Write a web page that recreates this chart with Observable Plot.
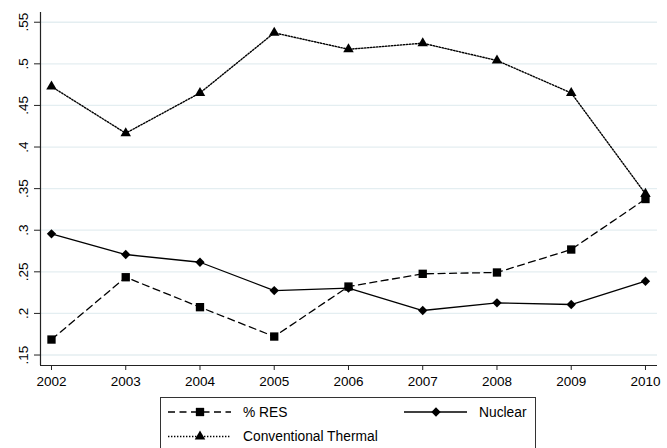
<!DOCTYPE html>
<html><head><meta charset="utf-8">
<script src="https://cdn.jsdelivr.net/npm/d3@7"></script>
<script src="https://cdn.jsdelivr.net/npm/@observablehq/plot@0.6"></script>
<style>
body{margin:0;background:#fff;font-family:"Liberation Sans",Arial,sans-serif;}
#chart{width:667px;height:448px;overflow:hidden;}
#chart svg{display:block;}
</style>
</head><body><div id="chart"></div>
<script>
const years = [2002, 2003, 2004, 2005, 2006, 2007, 2008, 2009, 2010];
const resValues = [0.1686, 0.2435, 0.2075, 0.1722, 0.2323, 0.2476, 0.2492, 0.2768, 0.3375];
const nuclearValues = [0.2957, 0.2708, 0.2615, 0.2275, 0.2303, 0.2035, 0.2127, 0.2107, 0.2387];
const thermalValues = [0.4727, 0.4166, 0.4650, 0.5373, 0.5175, 0.5248, 0.5040, 0.4650, 0.3437];
const yTicks = [0.15, 0.2, 0.25, 0.3, 0.35, 0.4, 0.45, 0.5, 0.55];
const seriesNames = ["% RES", "Nuclear", "Conventional Thermal"];

const rows = (name, vals) => years.map((y, i) => ({series: name, year: y, value: vals[i]}));
const resData = rows(seriesNames[0], resValues);
const nucData = rows(seriesNames[1], nuclearValues);
const thData = rows(seriesNames[2], thermalValues);

const xDomain = [2001.852, 2010.162];
const yDomain = [0.1374, 0.5617];
const fmt = d => d3.format(".2~f")(d).replace(/^0/, "");
const FONT = "'Liberation Sans', Arial, sans-serif";

const plot = Plot.plot({
  width: 667, height: 392,
  marginLeft: 40, marginRight: 10, marginTop: 12, marginBottom: 27,
  style: {fontFamily: FONT, fontSize: "13.5px", background: "white", color: "black", overflow: "visible"},
  x: {domain: xDomain, label: null},
  y: {domain: yDomain, label: null},
  marks: [
    Plot.gridY(yTicks, {stroke: "#e4eef1", strokeOpacity: 1, strokeWidth: 1.3}),
    Plot.axisX(years, {tickSize: 5, tickPadding: 6, tickFormat: d => String(d), label: null, stroke: "#222"}),
    Plot.axisY(yTicks, {tickSize: 6, tickFormat: () => "", label: null, stroke: "#222"}),
    Plot.text(yTicks, {x: xDomain[0], y: d => d, text: fmt, rotate: -90, textAnchor: "middle", lineAnchor: "middle", dx: -17, fill: "black", fontSize: 13.5}),
    Plot.ruleX([xDomain[0]], {stroke: "#222", strokeWidth: 1.2}),
    Plot.ruleY([yDomain[0]], {stroke: "#222", strokeWidth: 1.2}),
    Plot.line(thData, {x: "year", y: "value", stroke: "black", strokeWidth: 1.4, strokeDasharray: "1.4,1.6"}),
    Plot.line(resData, {x: "year", y: "value", stroke: "black", strokeWidth: 1.3, strokeDasharray: "7,4.5"}),
    Plot.line(nucData, {x: "year", y: "value", stroke: "black", strokeWidth: 1.3}),
    Plot.dot(thData, {x: "year", y: "value", symbol: "triangle", r: 3.9, fill: "black", stroke: "none"}),
    Plot.dot(resData, {x: "year", y: "value", symbol: "square", r: 4.7, fill: "black", stroke: "none"}),
    Plot.dot(nucData, {x: "year", y: "value", symbol: "diamond2", r: 4.2, fill: "black", stroke: "none"})
  ]
});
document.getElementById("chart").appendChild(plot);

// Legend below the plot
const lg = d3.select("#chart").append("svg").attr("width", 667).attr("height", 56)
  .style("font-family", FONT).style("font-size", "13.8px");
lg.append("rect").attr("x", 160.5).attr("y", 5.5).attr("width", 375).attr("height", 52)
  .attr("fill", "white").attr("stroke", "#333").attr("stroke-width", 1);
const items = [
  {name: seriesNames[0], x: 168, y: 20, dash: "7,4.5", sym: d3.symbolSquare, size: 4.7},
  {name: seriesNames[1], x: 404, y: 20, dash: null, sym: d3.symbolDiamond2, size: 4.2},
  {name: seriesNames[2], x: 168, y: 44.5, dash: "1.4,1.6", sym: d3.symbolTriangle, size: 3.9}
];
for (const it of items) {
  const g = lg.append("g");
  const ln = g.append("line").attr("x1", it.x).attr("x2", it.x + 63).attr("y1", it.y).attr("y2", it.y)
    .attr("stroke", "black").attr("stroke-width", 1.3);
  if (it.dash) ln.attr("stroke-dasharray", it.dash);
  g.append("path").attr("d", d3.symbol(it.sym, Math.PI * it.size * it.size)())
    .attr("transform", `translate(${it.x + 32},${it.y})`).attr("fill", "black");
  g.append("text").attr("x", it.x + 75).attr("y", it.y).attr("dy", "0.35em").text(it.name);
}
</script>
</body></html>
